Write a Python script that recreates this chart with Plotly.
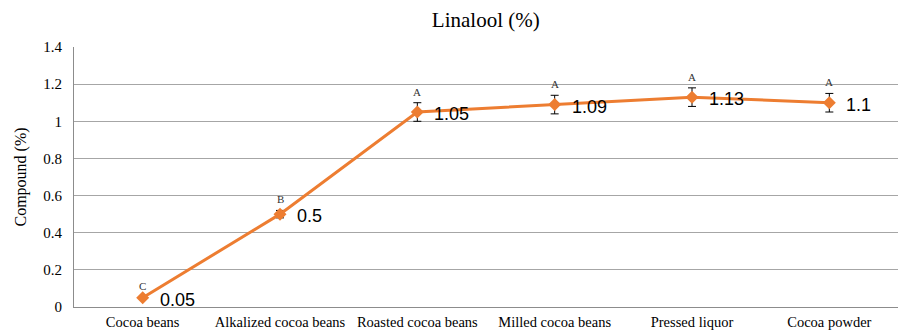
import plotly.graph_objects as go

categories = ["Cocoa beans", "Alkalized cocoa beans", "Roasted cocoa beans",
              "Milled cocoa beans", "Pressed liquor", "Cocoa powder"]
values = [0.05, 0.5, 1.05, 1.09, 1.13, 1.1]
errors = [0.005, 0.02, 0.05, 0.05, 0.05, 0.05]
letters = ["C", "B", "A", "A", "A", "A"]
value_labels = ["0.05", "0.5", "1.05", "1.09", "1.13", "1.1"]
y_ticks = [0, 0.2, 0.4, 0.6, 0.8, 1, 1.2, 1.4]
y_tick_text = ["0", "0.2", "0.4", "0.6", "0.8", "1", "1.2", "1.4"]

serif = "Liberation Serif, Times New Roman, serif"
sans = "Liberation Sans, Arial, sans-serif"
orange = "#ED7D31"

fig = go.Figure()
fig.add_trace(go.Scatter(
    x=list(range(len(categories))), y=values,
    mode="lines+markers",
    line=dict(color=orange, width=3),
    marker=dict(symbol="diamond", size=10, color=orange),
    error_y=dict(type="data", array=errors, visible=True,
                 color="#000000", thickness=1, width=4),
    showlegend=False,
))

for i, (v, e, lt, lab) in enumerate(zip(values, errors, letters, value_labels)):
    fig.add_annotation(x=i, y=v + e, text=lt, showarrow=False,
                       xanchor="center", yanchor="bottom", yshift=3,
                       font=dict(family=serif, size=11, color="#333333"))
    fig.add_annotation(x=i, y=v, text=lab, showarrow=False,
                       xanchor="left", yanchor="middle", xshift=15, yshift=-2,
                       font=dict(family=sans, size=18, color="#000000"))

fig.update_layout(
    width=898, height=332,
    margin=dict(l=74, r=0, t=47, b=25, autoexpand=False),
    paper_bgcolor="white", plot_bgcolor="white",
    title=dict(text="Linalool (%)", x=0.541, xanchor="center", y=0.94, yanchor="middle",
               font=dict(family=serif, size=21, color="#000000")),
    xaxis=dict(
        range=[-0.5, 5.5],
        tickmode="array", tickvals=list(range(len(categories))), ticktext=categories,
        showgrid=False, showline=True, linecolor="#8c8c8c", linewidth=1,
        ticks="", ticklabelstandoff=2, tickfont=dict(family=serif, size=14.5, color="#000000"),
        zeroline=False, automargin=False,
    ),
    yaxis=dict(
        range=[0, 1.4],
        tickmode="array", tickvals=y_ticks, ticktext=y_tick_text,
        showgrid=True, gridcolor="#a6a6a6", gridwidth=1,
        showline=True, linecolor="#8c8c8c", linewidth=1,
        ticks="", ticklabelstandoff=8, tickfont=dict(family=serif, size=15, color="#000000"),
        zeroline=False, automargin=False,
        title=dict(text="Compound (%)", font=dict(family=serif, size=16, color="#000000"),
                   standoff=12),
    ),
)

fig.write_html("out.html", config={"displayModeBar": False},
               post_script="document.body.style.margin='0';")
